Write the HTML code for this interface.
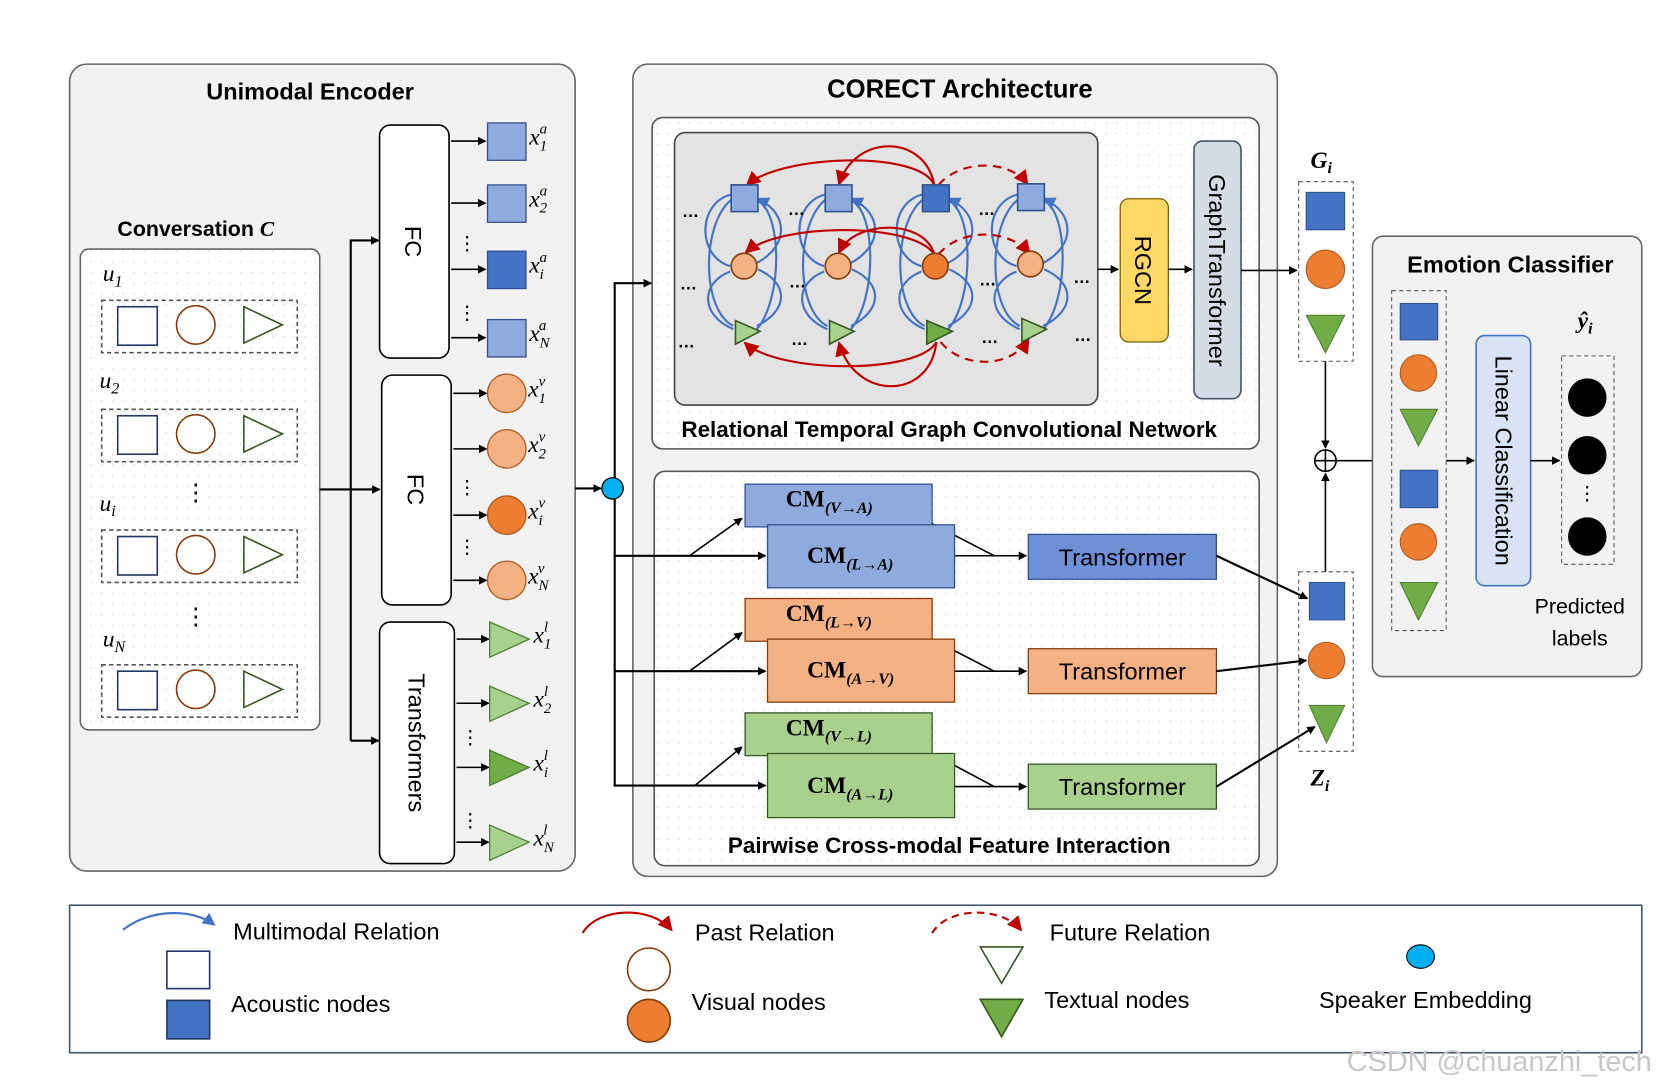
<!DOCTYPE html>
<html><head><meta charset="utf-8"><style>
html,body{margin:0;padding:0;background:#fff}
svg{display:block}
text{font-family:"Liberation Sans",sans-serif;fill:#000}
.t{font-size:22px;font-weight:bold}
.m{font-family:"Liberation Serif",serif;font-style:italic;font-size:22px}
.cm{font-family:"Liberation Serif",serif;font-weight:bold;font-size:22px}
.l{font-size:22px}
</style></head><body>
<svg width="1674" height="1088" viewBox="0 0 1566 1018" xmlns="http://www.w3.org/2000/svg">
<defs>
<marker id="a" markerWidth="8" markerHeight="8" refX="7" refY="4" orient="auto" markerUnits="userSpaceOnUse"><path d="M0,0 L8,4 L0,8 z" fill="#000"/></marker>
<marker id="b" markerWidth="12" markerHeight="12" refX="10" refY="6" orient="auto" markerUnits="userSpaceOnUse"><path d="M0,0 L12,6 L0,12 z" fill="#4472c4"/></marker>
<marker id="r" markerWidth="14" markerHeight="14" refX="12" refY="7" orient="auto" markerUnits="userSpaceOnUse"><path d="M0,0 L14,7 L0,14 z" fill="#c00000"/></marker>
<pattern id="d" width="10" height="10" patternUnits="userSpaceOnUse"><rect width="10" height="10" fill="#fff"/><circle cx="5" cy="5" r="0.8" fill="#ddd"/></pattern>
</defs>

<rect x="65" y="60" width="473" height="755" rx="16" fill="#f2f2f2" stroke="#666" stroke-width="1.5"/>
<text x="290" y="93" class="t" text-anchor="middle">Unimodal Encoder</text>
<text x="183" y="221" class="t" text-anchor="middle" style="font-size:20px">Conversation <tspan font-style="italic" font-family="Liberation Serif">C</tspan></text>
<rect x="75" y="233" width="224" height="450" rx="8" fill="url(#d)" stroke="#666" stroke-width="1.5"/>
<g fill="#fff" stroke="#1f3864" stroke-width="1.5">
<g><rect x="95" y="281" width="183" height="49" stroke="#555" stroke-dasharray="4,3" fill="none"/><rect x="110" y="287" width="37" height="36"/><circle cx="183" cy="304" r="18" stroke="#843c0c"/><path d="M228,287 L264,304 L228,321 z" stroke="#385723"/></g>
<g transform="translate(0,102)"><rect x="95" y="281" width="183" height="49" stroke="#555" stroke-dasharray="4,3" fill="none"/><rect x="110" y="287" width="37" height="36"/><circle cx="183" cy="304" r="18" stroke="#843c0c"/><path d="M228,287 L264,304 L228,321 z" stroke="#385723"/></g>
<g transform="translate(0,215)"><rect x="95" y="281" width="183" height="49" stroke="#555" stroke-dasharray="4,3" fill="none"/><rect x="110" y="287" width="37" height="36"/><circle cx="183" cy="304" r="18" stroke="#843c0c"/><path d="M228,287 L264,304 L228,321 z" stroke="#385723"/></g>
<g transform="translate(0,341)"><rect x="95" y="281" width="183" height="49" stroke="#555" stroke-dasharray="4,3" fill="none"/><rect x="110" y="287" width="37" height="36"/><circle cx="183" cy="304" r="18" stroke="#843c0c"/><path d="M228,287 L264,304 L228,321 z" stroke="#385723"/></g>
</g>
<text x="96" y="263" class="m">u<tspan font-size="15" dy="5">1</tspan></text>
<text x="93" y="363" class="m">u<tspan font-size="15" dy="5">2</tspan></text>
<text x="93" y="478" class="m">u<tspan font-size="15" dy="5">i</tspan></text>
<text x="96" y="605" class="m">u<tspan font-size="15" dy="5">N</tspan></text>
<text x="183" y="468" class="l" text-anchor="middle">⋮</text>
<text x="183" y="584" class="l" text-anchor="middle">⋮</text>

<g stroke="#000" stroke-width="2" fill="none">
<path d="M299,458 H355" marker-end="url(#a)"/>
<path d="M328,693 V225 H354" marker-end="url(#a)"/>
<path d="M328,693 H354" marker-end="url(#a)"/>
</g>
<rect x="355" y="117" width="65" height="218" rx="10" fill="#fff" stroke="#000" stroke-width="1.5"/>
<rect x="357" y="351" width="65" height="215" rx="10" fill="#fff" stroke="#000" stroke-width="1.5"/>
<rect x="355" y="582" width="70" height="226" rx="10" fill="#fff" stroke="#000" stroke-width="1.5"/>
<text class="l" transform="translate(379,226) rotate(90)" text-anchor="middle">FC</text>
<text class="l" transform="translate(381,458) rotate(90)" text-anchor="middle">FC</text>
<text class="l" transform="translate(382,695) rotate(90)" text-anchor="middle">Transformers</text>

<g stroke="#000" stroke-width="1.5" fill="none">
<path d="M422,132 H454" marker-end="url(#a)"/><path d="M422,190 H454" marker-end="url(#a)"/><path d="M422,252 H454" marker-end="url(#a)"/><path d="M422,316 H454" marker-end="url(#a)"/>
<path d="M424,368 H455" marker-end="url(#a)"/><path d="M424,420 H455" marker-end="url(#a)"/><path d="M424,482 H455" marker-end="url(#a)"/><path d="M424,543 H455" marker-end="url(#a)"/>
<path d="M427,598 H457" marker-end="url(#a)"/><path d="M427,658 H457" marker-end="url(#a)"/><path d="M427,718 H457" marker-end="url(#a)"/><path d="M427,788 H457" marker-end="url(#a)"/>
</g>
<g stroke="#2f528f" stroke-width="1.2">
<rect x="456" y="115" width="36" height="35" fill="#8faadc"/><rect x="456" y="173" width="36" height="35" fill="#8faadc"/><rect x="456" y="235" width="36" height="35" fill="#4472c4"/><rect x="456" y="299" width="36" height="35" fill="#8faadc"/>
</g>
<g stroke="#ae5a21" stroke-width="1.2">
<circle cx="474" cy="368" r="18" fill="#f4b183"/><circle cx="474" cy="420" r="18" fill="#f4b183"/><circle cx="474" cy="482" r="18" fill="#ed7d31"/><circle cx="474" cy="543" r="18" fill="#f4b183"/>
</g>
<g stroke="#507e32" stroke-width="1.2">
<path d="M458,582 L495,598 L458,615 z" fill="#a9d18e"/><path d="M458,642 L495,658 L458,675 z" fill="#a9d18e"/><path d="M458,702 L495,718 L458,735 z" fill="#70ad47"/><path d="M458,772 L495,788 L458,805 z" fill="#a9d18e"/>
</g>
<g>
<text x="495" y="135" class="m">x<tspan font-size="14" dy="6">1</tspan><tspan font-size="14" dx="-7" dy="-16">a</tspan></text>
<text x="495" y="193" class="m">x<tspan font-size="14" dy="6">2</tspan><tspan font-size="14" dx="-7" dy="-16">a</tspan></text>
<text x="495" y="255" class="m">x<tspan font-size="14" dy="6">i</tspan><tspan font-size="14" dx="-4" dy="-16">a</tspan></text>
<text x="495" y="319" class="m">x<tspan font-size="14" dy="6">N</tspan><tspan font-size="14" dx="-10" dy="-16">a</tspan></text>
<text x="494" y="371" class="m">x<tspan font-size="14" dy="6">1</tspan><tspan font-size="14" dx="-7" dy="-16">v</tspan></text>
<text x="494" y="423" class="m">x<tspan font-size="14" dy="6">2</tspan><tspan font-size="14" dx="-7" dy="-16">v</tspan></text>
<text x="494" y="485" class="m">x<tspan font-size="14" dy="6">i</tspan><tspan font-size="14" dx="-4" dy="-16">v</tspan></text>
<text x="494" y="546" class="m">x<tspan font-size="14" dy="6">N</tspan><tspan font-size="14" dx="-10" dy="-16">v</tspan></text>
<text x="499" y="601" class="m">x<tspan font-size="14" dy="6">1</tspan><tspan font-size="14" dx="-7" dy="-16">l</tspan></text>
<text x="499" y="661" class="m">x<tspan font-size="14" dy="6">2</tspan><tspan font-size="14" dx="-7" dy="-16">l</tspan></text>
<text x="499" y="721" class="m">x<tspan font-size="14" dy="6">i</tspan><tspan font-size="14" dx="-4" dy="-16">l</tspan></text>
<text x="499" y="791" class="m">x<tspan font-size="14" dy="6">N</tspan><tspan font-size="14" dx="-10" dy="-16">l</tspan></text>
</g>
<g class="l" text-anchor="middle" style="font-size:18px">
<text x="437" y="234">⋮</text><text x="437" y="299">⋮</text><text x="437" y="462">⋮</text><text x="437" y="518">⋮</text><text x="440" y="696">⋮</text><text x="440" y="774">⋮</text>
</g>

<rect x="592" y="60" width="603" height="760" rx="14" fill="#f2f2f2" stroke="#666" stroke-width="1.5"/>
<text x="898" y="91" class="t" text-anchor="middle" style="font-size:24px">CORECT Architecture</text>

<rect x="610" y="110" width="568" height="310" rx="10" fill="url(#d)" stroke="#555" stroke-width="1.5"/>
<rect x="631" y="124" width="396" height="255" rx="10" fill="#e3e3e3" stroke="#444" stroke-width="1.5"/>
<text x="888" y="409" class="t" text-anchor="middle" style="font-size:21px">Relational Temporal Graph Convolutional Network</text>
<rect x="612" y="441" width="566" height="369" rx="10" fill="url(#d)" stroke="#555" stroke-width="1.5"/>
<text x="888" y="798" class="t" text-anchor="middle" style="font-size:21px">Pairwise Cross-modal Feature Interaction</text>

<g stroke="#000" stroke-width="2" fill="none">
<path d="M538,457 H562" marker-end="url(#a)"/>
<path d="M575,467 V735 H716" marker-end="url(#a)"/>
<path d="M575,447 V265 H609" marker-end="url(#a)"/>
<path d="M575,520 H716" marker-end="url(#a)"/>
<path d="M575,628 H716" marker-end="url(#a)"/>
</g>
<circle cx="573" cy="457" r="10" fill="#00b0f0" stroke="#000" stroke-width="1.2"/>

<g stroke="#4472c4" stroke-width="2" fill="none" marker-end="url(#b)">
<path d="M684,182 C652,190 652,240 683,249 M684,187 C656,210 656,290 686,305 M683,254 C655,265 655,295 686,308 M708,308 C732,280 732,200 709,188 M708,305 C738,290 738,265 709,252 M708,246 C738,230 738,200 709,186"/>
<path d="M772,182 C740,190 740,240 771,249 M772,187 C744,210 744,290 774,305 M771,254 C743,265 743,295 774,308 M796,308 C820,280 820,200 797,188 M796,305 C826,290 826,265 797,252 M796,246 C826,230 826,200 797,186"/>
<path d="M863,182 C831,190 831,240 862,249 M863,187 C835,210 835,290 865,305 M862,254 C834,265 834,295 865,308 M887,308 C911,280 911,200 888,188 M887,305 C917,290 917,265 888,252 M887,246 C917,230 917,200 888,186"/>
<path d="M952,182 C920,190 920,240 951,249 M952,187 C924,210 924,290 954,305 M951,254 C923,265 923,295 954,308 M976,308 C1000,280 1000,200 977,188 M976,305 C1006,290 1006,265 977,252 M976,246 C1006,230 1006,200 977,186"/>
</g>
<g stroke="#c00000" stroke-width="2" fill="none" marker-end="url(#r)">
<path d="M874,173 C860,140 730,145 699,173"/>
<path d="M874,173 C865,125 800,125 785,172"/>
<path d="M874,238 C855,208 730,208 698,236"/>
<path d="M874,238 C865,205 800,205 785,236"/>
<path d="M876,320 C860,350 730,350 697,321"/>
<path d="M876,320 C870,375 800,375 785,321"/>
<path stroke-dasharray="8,6" d="M878,173 C900,148 945,150 961,172"/>
<path stroke-dasharray="8,6" d="M878,238 C900,212 945,215 963,237"/>
<path stroke-dasharray="8,6" d="M880,320 C900,345 945,345 962,318"/>
</g>
<g stroke="#2f528f" stroke-width="1.5">
<rect x="684" y="173" width="25" height="25" fill="#8faadc"/><rect x="772" y="173" width="25" height="25" fill="#8faadc"/><rect x="863" y="173" width="25" height="25" fill="#4472c4"/><rect x="952" y="172" width="25" height="25" fill="#8faadc"/>
</g>
<g stroke="#843c0c" stroke-width="1.5">
<circle cx="696" cy="249" r="12" fill="#f4b183"/><circle cx="784" cy="249" r="12" fill="#f4b183"/><circle cx="875" cy="249" r="12" fill="#ed7d31"/><circle cx="964" cy="247" r="12" fill="#f4b183"/>
</g>
<g stroke="#385723" stroke-width="1.5">
<path d="M688,300 L711,310 L688,322 z" fill="#a9d18e"/><path d="M776,300 L799,310 L776,322 z" fill="#a9d18e"/><path d="M867,300 L891,310 L867,322 z" fill="#70ad47"/><path d="M956,298 L979,308 L956,320 z" fill="#a9d18e"/>
</g>
<g font-weight="bold" style="font-size:16px">
<text x="638" y="203">…</text><text x="737" y="201">…</text><text x="915" y="201">…</text>
<text x="636" y="271">…</text><text x="738" y="269">…</text><text x="916" y="267">…</text><text x="1004" y="265">…</text>
<text x="634" y="325">…</text><text x="740" y="323">…</text><text x="918" y="321">…</text><text x="1005" y="319">…</text>
</g>
<rect x="1048" y="186" width="45" height="134" rx="8" fill="#ffd966" stroke="#7f6000" stroke-width="1.2"/>
<text class="l" transform="translate(1062,253) rotate(90)" text-anchor="middle">RGCN</text>
<rect x="1117" y="132" width="44" height="241" rx="8" fill="#d6dce5" stroke="#44546a" stroke-width="1.5"/>
<text class="l" transform="translate(1131,253) rotate(90)" text-anchor="middle">GraphTransformer</text>
<g stroke="#000" stroke-width="1.5" fill="none">
<path d="M1027,252 H1046" marker-end="url(#a)"/><path d="M1093,252 H1115" marker-end="url(#a)"/><path d="M1161,253 H1213" marker-end="url(#a)"/>
</g>

<g stroke="#000" stroke-width="1.5" fill="none">
<path d="M645,520 L694,485" marker-end="url(#a)"/><path d="M645,628 L694,592" marker-end="url(#a)"/><path d="M650,735 L694,699" marker-end="url(#a)"/>
<path d="M872,490 L930,520 H960" marker-end="url(#a)"/><path d="M893,520 H930"/>
<path d="M872,598 L930,628 H960" marker-end="url(#a)"/><path d="M893,628 H930"/>
<path d="M872,705 L930,736 H960" marker-end="url(#a)"/><path d="M893,736 H930"/>
</g>
<g stroke="#2f528f" stroke-width="1.2" fill="#8faadc">
<rect x="697" y="453" width="175" height="40"/><rect x="718" y="491" width="175" height="59"/>
</g>
<g stroke="#843c0c" stroke-width="1.2" fill="#f4b183">
<rect x="697" y="560" width="175" height="40"/><rect x="718" y="598" width="175" height="59"/>
</g>
<g stroke="#385723" stroke-width="1.2" fill="#a9d18e">
<rect x="697" y="667" width="175" height="40"/><rect x="718" y="705" width="175" height="60"/>
</g>
<text x="735" y="474" class="cm">CM<tspan font-size="15" font-style="italic" dy="6">(V→A)</tspan></text>
<text x="755" y="527" class="cm">CM<tspan font-size="15" font-style="italic" dy="6">(L→A)</tspan></text>
<text x="735" y="581" class="cm">CM<tspan font-size="15" font-style="italic" dy="6">(L→V)</tspan></text>
<text x="755" y="634" class="cm">CM<tspan font-size="15" font-style="italic" dy="6">(A→V)</tspan></text>
<text x="735" y="688" class="cm">CM<tspan font-size="15" font-style="italic" dy="6">(V→L)</tspan></text>
<text x="755" y="742" class="cm">CM<tspan font-size="15" font-style="italic" dy="6">(A→L)</tspan></text>
<rect x="962" y="500" width="176" height="42" fill="#6f8fd6" stroke="#2f528f" stroke-width="1.2"/>
<rect x="962" y="607" width="176" height="42" fill="#f4b183" stroke="#843c0c" stroke-width="1.2"/>
<rect x="962" y="715" width="176" height="42" fill="#a9d18e" stroke="#385723" stroke-width="1.2"/>
<text x="1050" y="529" class="l" text-anchor="middle">Transformer</text>
<text x="1050" y="636" class="l" text-anchor="middle">Transformer</text>
<text x="1050" y="744" class="l" text-anchor="middle">Transformer</text>
<g stroke="#000" stroke-width="2" fill="none">
<path d="M1138,520 L1223,560" marker-end="url(#a)"/><path d="M1138,628 L1222,618" marker-end="url(#a)"/><path d="M1138,736 L1230,680" marker-end="url(#a)"/>
</g>

<text x="1226" y="157" class="m" font-weight="bold">G<tspan font-size="15" dy="5">i</tspan></text>
<rect x="1215" y="170" width="51" height="168" fill="none" stroke="#555" stroke-dasharray="4,3"/>
<rect x="1222" y="180" width="36" height="35" fill="#4472c4" stroke="#2f528f"/>
<circle cx="1240" cy="252" r="18" fill="#ed7d31" stroke="#ae5a21"/>
<path d="M1222,295 L1258,295 L1240,330 z" fill="#70ad47" stroke="#507e32"/>
<rect x="1215" y="535" width="51" height="168" fill="none" stroke="#555" stroke-dasharray="4,3"/>
<rect x="1225" y="545" width="33" height="35" fill="#4472c4" stroke="#2f528f"/>
<circle cx="1241" cy="618" r="17" fill="#ed7d31" stroke="#ae5a21"/>
<path d="M1225,660 L1258,660 L1241,695 z" fill="#70ad47" stroke="#507e32"/>
<text x="1226" y="735" class="m" font-weight="bold">Z<tspan font-size="15" dy="5">i</tspan></text>
<g stroke="#000" stroke-width="1.5" fill="none">
<path d="M1240,338 V419" marker-end="url(#a)"/><path d="M1240,535 V443" marker-end="url(#a)"/><path d="M1250,431 H1300" marker-end="url(#a)"/>
<circle cx="1240" cy="431" r="10"/><path d="M1230,431 H1250 M1240,421 V441"/>
</g>

<rect x="1284" y="221" width="252" height="412" rx="10" fill="#f2f2f2" stroke="#666" stroke-width="1.5"/>
<text x="1413" y="255" class="t" text-anchor="middle">Emotion Classifier</text>
<rect x="1302" y="272" width="51" height="318" fill="none" stroke="#555" stroke-dasharray="4,3"/>
<rect x="1310" y="284" width="35" height="34" fill="#4472c4" stroke="#2f528f"/>
<circle cx="1327" cy="349" r="17" fill="#ed7d31" stroke="#ae5a21"/>
<path d="M1310,383 L1345,383 L1327,417 z" fill="#70ad47" stroke="#507e32"/>
<rect x="1310" y="440" width="35" height="35" fill="#4472c4" stroke="#2f528f"/>
<circle cx="1327" cy="507" r="17" fill="#ed7d31" stroke="#ae5a21"/>
<path d="M1310,545 L1345,545 L1327,580 z" fill="#70ad47" stroke="#507e32"/>
<rect x="1381" y="314" width="51" height="234" rx="8" fill="#dae3f3" stroke="#4472c4" stroke-width="1.5"/>
<text class="l" transform="translate(1399,431) rotate(90)" text-anchor="middle">Linear Classification</text>
<g stroke="#000" stroke-width="1.5" fill="none">
<path d="M1353,431 H1379" marker-end="url(#a)"/><path d="M1432,431 H1459" marker-end="url(#a)"/>
</g>
<rect x="1461" y="333" width="49" height="195" fill="none" stroke="#555" stroke-dasharray="4,3"/>
<circle cx="1485" cy="372" r="18" fill="#000"/><circle cx="1485" cy="426" r="18" fill="#000"/><circle cx="1485" cy="502" r="18" fill="#000"/>
<text x="1485" y="468" class="l" text-anchor="middle" style="font-size:18px">⋮</text>
<text x="1476" y="307" class="m" font-weight="bold">ŷ<tspan font-size="15" dy="5">i</tspan></text>
<text x="1478" y="574" class="l" text-anchor="middle" style="font-size:20px">Predicted</text>
<text x="1478" y="604" class="l" text-anchor="middle" style="font-size:20px">labels</text>

<rect x="65" y="847" width="1471" height="138" fill="#fff" stroke="#44546a" stroke-width="1.5"/>
<path d="M115,870 C140,850 180,850 200,865" stroke="#4472c4" stroke-width="2" fill="none" marker-end="url(#b)"/>
<text x="218" y="879" class="l">Multimodal Relation</text>
<rect x="156" y="890" width="40" height="35" fill="#fff" stroke="#1f3864" stroke-width="1.5"/>
<rect x="156" y="936" width="40" height="36" fill="#4472c4" stroke="#1f3864" stroke-width="1.5"/>
<text x="216" y="947" class="l">Acoustic nodes</text>
<path d="M545,873 C560,848 610,848 628,870" stroke="#c00000" stroke-width="2" fill="none" marker-end="url(#r)"/>
<text x="650" y="880" class="l">Past Relation</text>
<circle cx="607" cy="907" r="20" fill="#fff" stroke="#843c0c" stroke-width="1.5"/>
<circle cx="607" cy="955" r="20" fill="#ed7d31" stroke="#843c0c" stroke-width="1.5"/>
<text x="647" y="945" class="l">Visual nodes</text>
<path d="M872,873 C887,848 937,848 955,870" stroke="#c00000" stroke-width="2" stroke-dasharray="7,5" fill="none" marker-end="url(#r)"/>
<text x="982" y="880" class="l">Future Relation</text>
<path d="M917,886 L957,886 L937,920 z" fill="#fff" stroke="#385723" stroke-width="1.5"/>
<path d="M917,935 L957,935 L937,970 z" fill="#70ad47" stroke="#385723" stroke-width="1.5"/>
<text x="977" y="943" class="l">Textual nodes</text>
<ellipse cx="1329" cy="895" rx="13" ry="11" fill="#00b0f0" stroke="#000" stroke-width="1"/>
<text x="1234" y="943" class="l">Speaker Embedding</text>
<text x="1260" y="1002" style="font-size:27px;fill:#c8c8c8">CSDN @chuanzhi_tech</text>
</svg>
</body></html>
